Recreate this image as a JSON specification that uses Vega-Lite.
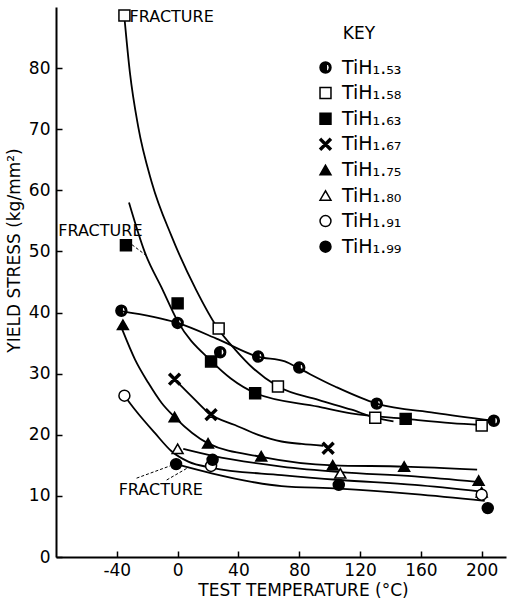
{
  "$schema": "https://vega.github.io/schema/vega-lite/v6.json",
  "width": 450,
  "height": 550,
  "autosize": {"type": "none"},
  "padding": {"left": 56, "top": 7, "right": 1, "bottom": 43},
  "background": "white",
  "config": {
    "view": {"stroke": null},
    "font": "DejaVu Sans",
    "axis": {"grid": false, "domainColor": "black", "domainWidth": 2, "tickColor": "black", "tickWidth": 1.5, "labelColor": "black", "titleColor": "black", "labelFont": "DejaVu Sans", "titleFont": "DejaVu Sans", "titleFontWeight": "normal", "labelFontSize": 17, "titleFontSize": 17}
  },
  "datasets": {
    "markers": [
      {"series": "TiH₁.₅₃", "t": -37, "s": 40.3}, {"series": "TiH₁.₅₃", "t": 0, "s": 38.3}, {"series": "TiH₁.₅₃", "t": 28, "s": 33.5}, {"series": "TiH₁.₅₃", "t": 53, "s": 32.8}, {"series": "TiH₁.₅₃", "t": 80, "s": 31}, {"series": "TiH₁.₅₃", "t": 131, "s": 25.1}, {"series": "TiH₁.₅₃", "t": 208, "s": 22.3},
      {"series": "TiH₁.₅₈", "t": -35, "s": 88.6}, {"series": "TiH₁.₅₈", "t": 27, "s": 37.4}, {"series": "TiH₁.₅₈", "t": 66, "s": 27.9}, {"series": "TiH₁.₅₈", "t": 130, "s": 22.8}, {"series": "TiH₁.₅₈", "t": 200, "s": 21.5},
      {"series": "TiH₁.₆₃", "t": -34, "s": 51}, {"series": "TiH₁.₆₃", "t": 0, "s": 41.5}, {"series": "TiH₁.₆₃", "t": 22, "s": 32}, {"series": "TiH₁.₆₃", "t": 51, "s": 26.8}, {"series": "TiH₁.₆₃", "t": 150, "s": 22.6},
      {"series": "TiH₁.₆₇", "t": -2, "s": 29.1}, {"series": "TiH₁.₆₇", "t": 22, "s": 23.3}, {"series": "TiH₁.₆₇", "t": 99, "s": 17.8},
      {"series": "TiH₁.₇₅", "t": -36, "s": 38}, {"series": "TiH₁.₇₅", "t": -2, "s": 22.9}, {"series": "TiH₁.₇₅", "t": 20, "s": 18.6}, {"series": "TiH₁.₇₅", "t": 55, "s": 16.5}, {"series": "TiH₁.₇₅", "t": 102, "s": 15}, {"series": "TiH₁.₇₅", "t": 149, "s": 14.8}, {"series": "TiH₁.₇₅", "t": 198, "s": 12.5},
      {"series": "TiH₁.₈₀", "t": 0, "s": 17.7}, {"series": "TiH₁.₈₀", "t": 107, "s": 13.7}, {"series": "TiH₁.₈₀", "t": 200, "s": 10.6},
      {"series": "TiH₁.₉₁", "t": -35, "s": 26.4}, {"series": "TiH₁.₉₁", "t": 22, "s": 14.9}, {"series": "TiH₁.₉₁", "t": 200, "s": 10.2},
      {"series": "TiH₁.₉₉", "t": -1, "s": 15.2}, {"series": "TiH₁.₉₉", "t": 23, "s": 15.9}, {"series": "TiH₁.₉₉", "t": 106, "s": 11.8}, {"series": "TiH₁.₉₉", "t": 204, "s": 8}
    ],
    "curves": [
      {"curve": "c153", "t": -36.4, "s": 40.2}, {"curve": "c153", "t": 0, "s": 38.3}, {"curve": "c153", "t": 26.8, "s": 35.6}, {"curve": "c153", "t": 52.6, "s": 32.8}, {"curve": "c153", "t": 70.6, "s": 32}, {"curve": "c153", "t": 79.4, "s": 30.9}, {"curve": "c153", "t": 103.5, "s": 27.9}, {"curve": "c153", "t": 131, "s": 25.1}, {"curve": "c153", "t": 169, "s": 23.6}, {"curve": "c153", "t": 208, "s": 22.3},
      {"curve": "c158", "t": -35, "s": 88.3}, {"curve": "c158", "t": -31.4, "s": 79.3}, {"curve": "c158", "t": -26, "s": 70.5}, {"curve": "c158", "t": -17, "s": 61.3}, {"curve": "c158", "t": -4, "s": 52.5}, {"curve": "c158", "t": 12, "s": 43.8}, {"curve": "c158", "t": 26.5, "s": 37.4}, {"curve": "c158", "t": 38, "s": 33.9}, {"curve": "c158", "t": 50, "s": 30.8}, {"curve": "c158", "t": 66, "s": 27.9}, {"curve": "c158", "t": 92.6, "s": 25.7}, {"curve": "c158", "t": 114.5, "s": 24.1}, {"curve": "c158", "t": 130, "s": 22.8}, {"curve": "c158", "t": 142, "s": 22.2},
      {"curve": "c163", "t": -32, "s": 58}, {"curve": "c163", "t": -21.5, "s": 49.8}, {"curve": "c163", "t": -10, "s": 43.8}, {"curve": "c163", "t": 0, "s": 38.6}, {"curve": "c163", "t": 22.4, "s": 32}, {"curve": "c163", "t": 35, "s": 29.2}, {"curve": "c163", "t": 51.3, "s": 26.8}, {"curve": "c163", "t": 92.6, "s": 24.6}, {"curve": "c163", "t": 114, "s": 23.5}, {"curve": "c163", "t": 150, "s": 22.6}, {"curve": "c163", "t": 180, "s": 21.9}, {"curve": "c163", "t": 200, "s": 21.6},
      {"curve": "c167", "t": -2, "s": 29.1}, {"curve": "c167", "t": 9.2, "s": 26.3}, {"curve": "c167", "t": 21.3, "s": 23.4}, {"curve": "c167", "t": 37.7, "s": 21.6}, {"curve": "c167", "t": 53, "s": 20}, {"curve": "c167", "t": 68.4, "s": 18.9}, {"curve": "c167", "t": 81.6, "s": 18.5}, {"curve": "c167", "t": 95.8, "s": 18.2},
      {"curve": "c175", "t": -36.4, "s": 37.2}, {"curve": "c175", "t": -28, "s": 32.3}, {"curve": "c175", "t": -19.3, "s": 28.5}, {"curve": "c175", "t": -10.5, "s": 25.2}, {"curve": "c175", "t": -2, "s": 22.9}, {"curve": "c175", "t": 20, "s": 18.6}, {"curve": "c175", "t": 55, "s": 16.4}, {"curve": "c175", "t": 102, "s": 15}, {"curve": "c175", "t": 149, "s": 14.8}, {"curve": "c175", "t": 197, "s": 14.3},
      {"curve": "c180", "t": 3.7, "s": 17.7}, {"curve": "c180", "t": 22.4, "s": 16.6}, {"curve": "c180", "t": 68.4, "s": 14.8}, {"curve": "c180", "t": 107, "s": 13.9}, {"curve": "c180", "t": 156, "s": 13.2}, {"curve": "c180", "t": 197, "s": 12.3},
      {"curve": "c191", "t": -35, "s": 26.4}, {"curve": "c191", "t": -28, "s": 24.1}, {"curve": "c191", "t": -15, "s": 20.3}, {"curve": "c191", "t": -4, "s": 17.3}, {"curve": "c191", "t": 7, "s": 15.6}, {"curve": "c191", "t": 22.4, "s": 14.6}, {"curve": "c191", "t": 68.4, "s": 13.4}, {"curve": "c191", "t": 107, "s": 12.6}, {"curve": "c191", "t": 156, "s": 11.8}, {"curve": "c191", "t": 200, "s": 10.7},
      {"curve": "c199", "t": -1, "s": 15.2}, {"curve": "c199", "t": 22.4, "s": 13.7}, {"curve": "c199", "t": 48.7, "s": 12.3}, {"curve": "c199", "t": 68.4, "s": 11.6}, {"curve": "c199", "t": 106, "s": 11.2}, {"curve": "c199", "t": 156, "s": 10.3}, {"curve": "c199", "t": 202, "s": 9.2}
    ],
    "notes": [
      {"t": -31.6, "s": 88.4, "label": "FRACTURE"},
      {"t": -78.5, "s": 53.4, "label": "FRACTURE"},
      {"t": -38.8, "s": 10.9, "label": "FRACTURE"}
    ],
    "leaders": [
      {"t": -30, "s": 51.1, "t2": -21, "s2": 49.4},
      {"t": -27, "s": 12.9, "t2": -5, "s2": 14.9},
      {"t": -7.2, "s": 12.6, "t2": 7.4, "s2": 14.7}
    ]
  },
  "layer": [
    {
      "data": {"name": "curves"},
      "mark": {"type": "line", "interpolate": "monotone", "color": "black", "strokeWidth": 1.8},
      "encoding": {
        "x": {"field": "t", "type": "quantitative", "scale": {"domain": [-80, 216], "nice": false, "zero": false},
          "axis": {"values": [-40, 0, 40, 80, 120, 160, 200], "labelExpr": "'' + datum.value", "title": "TEST TEMPERATURE (°C)", "tickSize": -6, "labelPadding": 11, "titleX": 247, "titleY": 33, "titleBaseline": "middle"}},
        "y": {"field": "s", "type": "quantitative", "scale": {"domain": [0, 90], "nice": false},
          "axis": {"values": [0, 10, 20, 30, 40, 50, 60, 70, 80], "title": "YIELD STRESS (kg/mm²)", "tickSize": -6, "labelPadding": 12, "titleX": -42, "titleY": 243, "titleBaseline": "middle", "titleAngle": -90}},
        "detail": {"field": "curve"}
      }
    },
    {
      "data": {"name": "leaders"},
      "mark": {"type": "rule", "color": "black", "strokeWidth": 1, "strokeDash": [3, 2]},
      "encoding": {
        "x": {"field": "t", "type": "quantitative"},
        "y": {"field": "s", "type": "quantitative"},
        "x2": {"field": "t2"},
        "y2": {"field": "s2"}
      }
    },
    {
      "mark": {"type": "rule", "color": "black", "strokeWidth": 2},
      "encoding": {"y": {"datum": 90}}
    },
    {
      "data": {"name": "markers"},
      "mark": {"type": "point", "filled": true, "size": 120, "stroke": "black", "strokeWidth": 1.5, "opacity": 1},
      "encoding": {
        "x": {"field": "t", "type": "quantitative"},
        "y": {"field": "s", "type": "quantitative"},
        "shape": {"field": "series", "type": "nominal",
          "scale": {"domain": ["TiH₁.₅₃", "TiH₁.₅₈", "TiH₁.₆₃", "TiH₁.₆₇", "TiH₁.₇₅", "TiH₁.₈₀", "TiH₁.₉₁", "TiH₁.₉₉"],
            "range": ["M0,-1 A1,1 0 1,1 0,1 A1,1 0 1,1 0,-1 Z M0.15,-0.72 L0.15,0.72 A0.735,0.735 0 0,0 0.15,-0.72 Z", "square", "square", "M-0.773,-1.027 L1.027,0.773 L0.773,1.027 L-1.027,-0.773 Z M-0.773,1.027 L-1.027,0.773 L0.773,-1.027 L1.027,-0.773 Z", "triangle-up", "triangle-up", "circle", "circle"]},
          "legend": {"orient": "none", "legendX": 260, "legendY": 19, "title": "KEY", "titleFontSize": 17, "titleFontWeight": "normal", "titleColor": "black", "titlePadding": 15, "titleAnchor": "middle", "labelFontSize": 19, "labelColor": "black", "symbolSize": 120, "rowPadding": 5.6, "labelOffset": 7,
            "encode": {"symbols": {"update": {"stroke": {"value": "black"}, "strokeWidth": {"value": 1.5}}}}}},
        "fill": {"field": "series", "type": "nominal",
          "scale": {"domain": ["TiH₁.₅₃", "TiH₁.₅₈", "TiH₁.₆₃", "TiH₁.₆₇", "TiH₁.₇₅", "TiH₁.₈₀", "TiH₁.₉₁", "TiH₁.₉₉"],
            "range": ["black", "white", "black", "black", "black", "white", "white", "black"]}}
      }
    },
    {
      "data": {"name": "notes"},
      "mark": {"type": "text", "align": "left", "baseline": "middle", "fontSize": 16, "font": "DejaVu Sans", "color": "black"},
      "encoding": {
        "x": {"field": "t", "type": "quantitative"},
        "y": {"field": "s", "type": "quantitative"},
        "text": {"field": "label"}
      }
    }
  ]
}
